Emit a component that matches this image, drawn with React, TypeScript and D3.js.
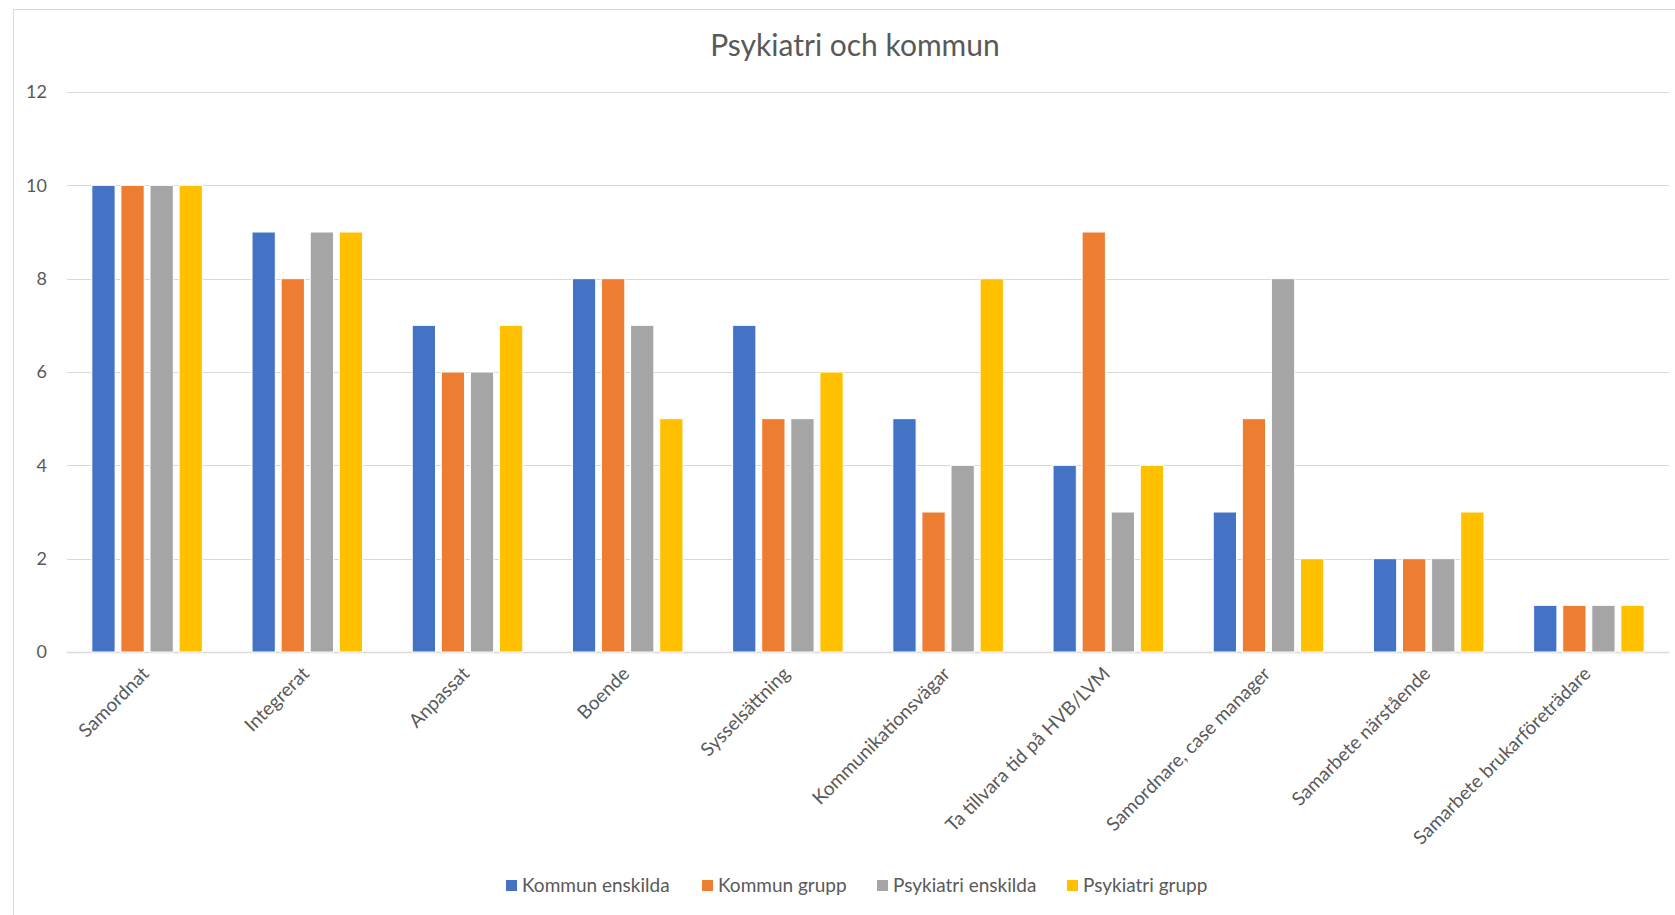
import React, { useEffect, useRef } from 'react';
import * as d3 from 'd3';

const categories = [
  'Samordnat',
  'Integrerat',
  'Anpassat',
  'Boende',
  'Sysselsättning',
  'Kommunikationsvägar',
  'Ta tillvara tid på HVB/LVM',
  'Samordnare, case manager',
  'Samarbete närstående',
  'Samarbete brukarföreträdare',
];

const seriesNames = ['Kommun enskilda', 'Kommun grupp', 'Psykiatri enskilda', 'Psykiatri grupp'];
const seriesColors = ['#4472c4', '#ed7d31', '#a5a5a5', '#ffc000'];

const kommunEnskilda = [10, 9, 7, 8, 7, 5, 4, 3, 2, 1];
const kommunGrupp = [10, 8, 6, 8, 5, 3, 9, 5, 2, 1];
const psykiatriEnskilda = [10, 9, 6, 7, 5, 4, 3, 8, 2, 1];
const psykiatriGrupp = [10, 9, 7, 5, 6, 8, 4, 2, 3, 1];

const yTicks = [0, 2, 4, 6, 8, 10, 12];

const App = () => {
  const ref = useRef<SVGSVGElement>(null);

  useEffect(() => {
    const W = 1675;
    const H = 915;
    const svg = d3.select(ref.current).attr('width', W).attr('height', H);
    svg.selectAll('*').remove();

    const font = 'Lato, "Open Sans", sans-serif';
    const textColor = '#595959';
    const left = 67;
    const right = 1669;
    const top = 92;
    const bottom = 652;

    // chart frame
    svg.append('rect')
      .attr('x', 13.5).attr('y', 9.5)
      .attr('width', W + 20).attr('height', H + 20)
      .attr('fill', '#fff').attr('stroke', '#d9d9d9');

    const x0 = d3.scaleBand().domain(categories).range([left, right]).paddingInner(0.31).paddingOuter(0.155);
    const x1 = d3.scaleBand().domain(seriesNames).range([0, x0.bandwidth()]).paddingInner(0.2);
    const y = d3.scaleLinear().domain([0, 12]).range([bottom, top]);

    // grid
    svg.append('g')
      .selectAll('line')
      .data(yTicks)
      .enter()
      .append('line')
      .attr('x1', left).attr('x2', right)
      .attr('y1', d => Math.round(y(d)) + 0.5).attr('y2', d => Math.round(y(d)) + 0.5)
      .attr('stroke', '#d9d9d9').attr('stroke-width', d => (d === 0 ? 1.5 : 1));

    svg.append('g')
      .selectAll('text')
      .data(yTicks)
      .enter()
      .append('text')
      .attr('x', 47).attr('y', d => y(d))
      .attr('dy', '0.35em')
      .attr('text-anchor', 'end')
      .attr('font-family', font).attr('font-size', 18).attr('fill', textColor)
      .text(d => d);

    // bars
    const allSeries = [kommunEnskilda, kommunGrupp, psykiatriEnskilda, psykiatriGrupp];
    allSeries.forEach((vals, si) => {
      svg.append('g')
        .selectAll('rect')
        .data(vals)
        .enter()
        .append('rect')
        .attr('x', (d, i) => (x0(categories[i]) as number) + (x1(seriesNames[si]) as number))
        .attr('y', d => y(d))
        .attr('width', x1.bandwidth())
        .attr('height', d => y(0) - y(d))
        .attr('fill', seriesColors[si])
        .attr('stroke', '#fff').attr('stroke-width', 1);
    });

    // category labels
    svg.append('g')
      .selectAll('text')
      .data(categories)
      .enter()
      .append('text')
      .attr('transform', d => `translate(${(x0(d) as number) + x0.bandwidth() / 2 + 3},${bottom + 23}) rotate(-45)`)
      .attr('text-anchor', 'end')
      .attr('font-family', font).attr('font-size', 19).attr('fill', textColor)
      .text(d => d);

    // title
    svg.append('text')
      .attr('x', 855).attr('y', 56)
      .attr('text-anchor', 'middle')
      .attr('font-family', font).attr('font-size', 30).attr('fill', textColor)
      .text('Psykiatri och kommun');

    // legend
    const legendX = [506, 702, 877, 1067];
    const legend = svg.append('g');
    seriesNames.forEach((name, i) => {
      legend.append('rect')
        .attr('x', legendX[i]).attr('y', 880)
        .attr('width', 11).attr('height', 11)
        .attr('fill', seriesColors[i]);
      legend.append('text')
        .attr('x', legendX[i] + 16).attr('y', 885)
        .attr('dy', '0.35em')
        .attr('font-family', font).attr('font-size', 19).attr('fill', textColor)
        .text(name);
    });
  }, []);

  return (
    <svg ref={ref} style={{ position: 'absolute', left: 0, top: 0, background: '#fff' }}></svg>
  );
};

export default App;
